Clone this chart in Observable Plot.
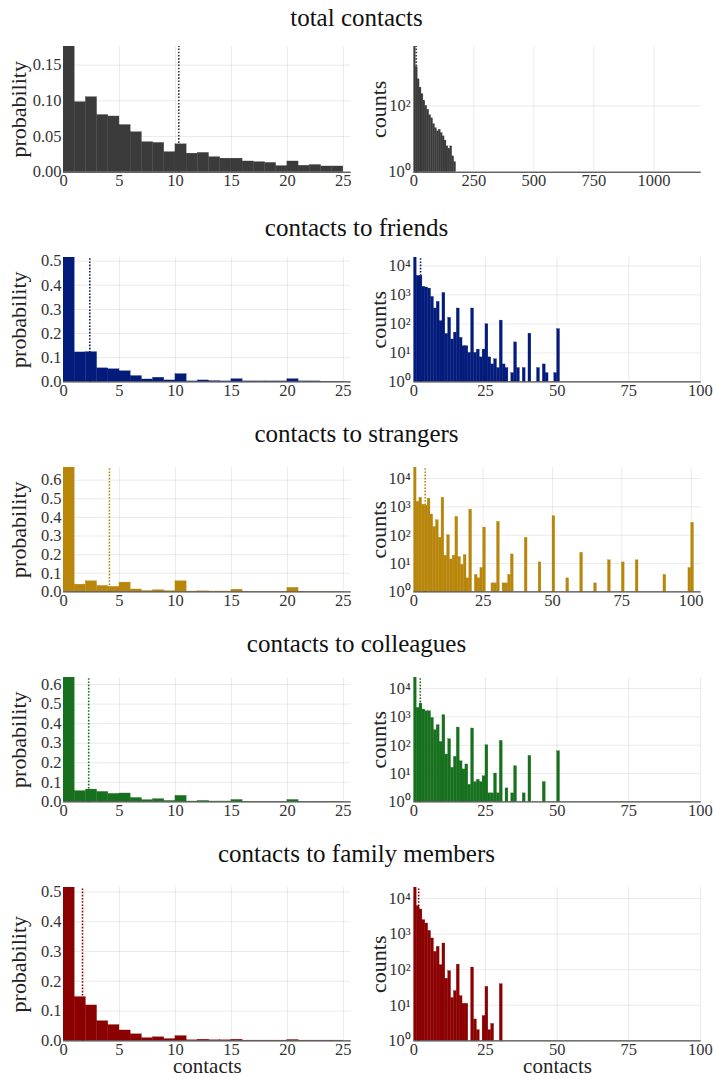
<!DOCTYPE html>
<html><head><meta charset="utf-8">
<script src="https://cdn.jsdelivr.net/npm/d3@7"></script>
<script src="https://cdn.jsdelivr.net/npm/@observablehq/plot@0.6"></script>
<style>
html,body{margin:0;padding:0;background:#fff;}
#root{position:relative;width:713px;height:1078px;overflow:hidden;font-family:"Liberation Serif",serif;}
.title{position:absolute;left:0;width:713px;text-align:center;font-size:25px;line-height:25px;color:#111;white-space:nowrap;}
.panel{position:absolute;}
.panel svg{overflow:visible;}
</style>
</head><body><div id="root"></div>
<script>
// ---------- data ----------
const rowTitles = ["total contacts", "contacts to friends", "contacts to strangers", "contacts to colleagues", "contacts to family members"];
const rowColors = ["#3b3b3b", "#031b7b", "#b8860b", "#17701d", "#8b0000"];
const meanContacts = [10.3, 2.35, 4.1, 2.25, 1.7];

// probability per unit bin (0-1, 1-2, ...)
const totalProb = [0.19, 0.098, 0.105, 0.080, 0.078, 0.066, 0.056, 0.042, 0.041, 0.028, 0.039, 0.026, 0.027, 0.021, 0.019, 0.019, 0.015, 0.014, 0.013, 0.0085, 0.015, 0.009, 0.010, 0.008, 0.008];
const friendsProb = [0.53, 0.122, 0.123, 0.056, 0.052, 0.044, 0.024, 0.010, 0.017, 0.006, 0.032, 0.002, 0.006, 0.003, 0.002, 0.011, 0.002, 0.002, 0.002, 0.002, 0.011, 0.002, 0.002, 0.001, 0.001];
const strangersProb = [0.70, 0.039, 0.057, 0.032, 0.027, 0.050, 0.013, 0.005, 0.009, 0.004, 0.057, 0.002, 0.003, 0.002, 0.002, 0.012, 0.001, 0.001, 0.001, 0.001, 0.022, 0.001, 0.001, 0.001, 0.001];
const colleaguesProb = [0.66, 0.055, 0.063, 0.051, 0.041, 0.043, 0.020, 0.009, 0.014, 0.005, 0.031, 0.002, 0.005, 0.002, 0.002, 0.010, 0.001, 0.001, 0.001, 0.001, 0.010, 0.001, 0.001, 0.001, 0.001];
const familyProb = [0.52, 0.147, 0.119, 0.066, 0.053, 0.035, 0.022, 0.009, 0.012, 0.006, 0.016, 0.002, 0.004, 0.002, 0.002, 0.004, 0.001, 0.001, 0.001, 0.001, 0.003, 0.001, 0.001, 0.001, 0.001];

// counts (total: bins of 8 contacts; others: bins of 1 contact)
const totalBinWidth = 8;
const totalCounts = [9000, 1500, 630, 355, 224, 141, 100, 76, 52, 42, 28, 21, 17, 19, 15, 12, 9, 6, 5, 6, 3, 2];
const friendsCounts = [20000, 4500, 4500, 1900, 1800, 1650, 850, 340, 575, 124, 1170, 45, 162, 29, 50, 340, 33, 17, 17, 10, 340, 10, 13, 7, 13, 97, 7, 4, 6, 3, 130, 4, 3, 1, 2, 23, 3, 1, 3, 1, 46, 1, 1, 3, 1, 4, 2, 1, 1, 2, 66];
const strangersCounts = [30000, 1500, 2100, 1200, 1100, 1950, 540, 196, 340, 81, 2100, 19, 100, 14, 19, 445, 17, 9, 20, 3, 800, 1, 4, 3, 7, 186, 1, 1, 2, 2, 295, 1, 2, 2, 4, 21, 1, 1, 1, 1, 81, 1, 1, 1, 1, 11, 1, 1, 1, 1, 470, 1, 1, 1, 1, 3, 1, 1, 1, 1, 24, 1, 1, 1, 1, 2, 1, 1, 1, 1, 13, 1, 1, 1, 1, 11, 1, 1, 1, 1, 13, 1, 1, 1, 1, 1, 1, 1, 1, 1, 4, 1, 1, 1, 1, 1, 1, 1, 1, 7, 275];
const colleaguesCounts = [30000, 2080, 2960, 1820, 1580, 1580, 920, 340, 510, 130, 1150, 47, 163, 16, 39, 420, 27, 14, 21, 4, 390, 5, 6, 5, 8, 100, 2, 2, 10, 2, 142, 1, 3, 1, 2, 18, 1, 1, 2, 1, 42, 1, 1, 1, 1, 5, 1, 1, 1, 1, 61];
const familyCounts = [25000, 6100, 4900, 2470, 1990, 1230, 755, 317, 437, 134, 545, 56, 91, 16, 25, 139, 18, 11, 11, 1, 115, 4, 2, 1, 5, 33, 2, 3, 1, 1, 39];

const probTicks = [[0, 0.05, 0.10, 0.15], [0, 0.1, 0.2, 0.3, 0.4, 0.5], [0, 0.1, 0.2, 0.3, 0.4, 0.5, 0.6], [0, 0.1, 0.2, 0.3, 0.4, 0.5, 0.6], [0, 0.1, 0.2, 0.3, 0.4, 0.5]];
const countTicks = [[1, 100], [1, 10, 100, 1000, 10000], [1, 10, 100, 1000, 10000], [1, 10, 100, 1000, 10000], [1, 10, 100, 1000, 10000]];
const leftXTicks = [0, 5, 10, 15, 20, 25];
const rightXTicks = [[0, 250, 500, 750, 1000], [0, 25, 50, 75, 100], [0, 25, 50, 75, 100], [0, 25, 50, 75, 100], [0, 25, 50, 75, 100]];

// ---------- layout ----------
const probs = [totalProb, friendsProb, strangersProb, colleaguesProb, familyProb];
const counts = [totalCounts, friendsCounts, strangersCounts, colleaguesCounts, familyCounts];
const binWidths = [totalBinWidth, 1, 1, 1, 1];
const leftYMax = [0.176, 0.515, 0.668, 0.636, 0.515];
const rightYMax = [6166, 19500, 24600, 24600, 20400];
const rightXMax = [1197, 100.25, 103.6, 100.25, 100.25];
const frameTops = [46, 257.3, 467.3, 677.3, 887.3];
const frameBottoms = [171.7, 381.7, 591.7, 801.7, 1040.7];
const titleBaselines = [26, 236, 442, 652, 862];

const root = document.getElementById("root");
const FONT = "'Liberation Serif', serif";
const sup = {"0": "\u2070", "1": "\u00b9", "2": "\u00b2", "3": "\u00b3", "4": "\u2074"};
const MT = 6;

function place(el, left, top) {
  const d = document.createElement("div");
  d.className = "panel";
  d.style.left = left + "px";
  d.style.top = top + "px";
  d.appendChild(el);
  root.appendChild(d);
}

function yLabel(txt, dx) {
  return Plot.text([txt], {text: d => d, frameAnchor: "left", rotate: -90, dx, textAnchor: "middle", lineAnchor: "middle", fontSize: 22, fill: "#222"});
}
function xLabel(txt) {
  return Plot.text([txt], {text: d => d, frameAnchor: "bottom", dy: 25, textAnchor: "middle", lineAnchor: "middle", fontSize: 21, fill: "#222"});
}

for (let r = 0; r < 5; r++) {
  const t = document.createElement("div");
  t.className = "title";
  t.style.top = (titleBaselines[r] - 21) + "px";
  t.textContent = rowTitles[r];
  root.appendChild(t);

  const color = rowColors[r];
  const fh = frameBottoms[r] - frameTops[r];
  const last = r === 4;
  const MB = last ? 37 : 30;

  // left: probability histogram
  const pdata = probs[r].map((p, i) => ({x1: i, x2: i + 1, p}));
  const left = Plot.plot({
    width: 360, height: MT + fh + MB,
    marginLeft: 63, marginRight: 9.3, marginTop: MT, marginBottom: MB,
    style: {fontFamily: FONT, fontSize: "16.5px", color: "#333", background: "transparent"},
    x: {domain: [0, 25.7], ticks: leftXTicks, tickFormat: "d", tickSize: 0, tickPadding: 2, grid: true, label: null},
    y: {domain: [0, leftYMax[r]], ticks: probTicks[r], tickFormat: r === 0 ? ".2f" : ".1f", tickSize: 0, tickPadding: 2, grid: true, label: null},
    marks: [
      Plot.ruleX([meanContacts[r]], {y1: 0, y2: leftYMax[r], stroke: color, strokeWidth: 1.6, strokeDasharray: "1.6,1.6"}),
      Plot.rect(pdata, {x1: "x1", x2: "x2", y1: 0, y2: "p", fill: color, stroke: color, strokeWidth: 0.3, inset: 0, clip: true}),
      Plot.ruleY([0], {stroke: "#222", strokeWidth: 1}),
      yLabel("probability", -45),
      ...(last ? [xLabel("contacts")] : [])
    ]
  });
  place(left, 0, frameTops[r] - MT);

  // right: counts histogram (log)
  const bw = binWidths[r];
  const cdata = counts[r].map((c, i) => ({x1: i * bw, x2: (i + 1) * bw, c})).filter(d => d.c > 1);
  const right = Plot.plot({
    width: 353, height: MT + fh + MB,
    marginLeft: 53.3, marginRight: 12.3, marginTop: MT, marginBottom: MB,
    style: {fontFamily: FONT, fontSize: "16.5px", color: "#333", background: "transparent"},
    x: {domain: [0, rightXMax[r]], ticks: rightXTicks[r], tickFormat: "d", tickSize: 0, tickPadding: 2, grid: true, label: null},
    y: {type: "log", domain: [1, rightYMax[r]], ticks: countTicks[r], tickFormat: d => "10" + sup[String(Math.round(Math.log10(d)))], tickSize: 0, tickPadding: 3, grid: true, label: null},
    marks: [
      Plot.ruleX([meanContacts[r]], {y1: 1, y2: rightYMax[r], stroke: color, strokeWidth: 1.6, strokeDasharray: "1.6,1.6"}),
      Plot.rect(cdata, {x1: "x1", x2: "x2", y1: 1, y2: "c", fill: color, stroke: color, strokeWidth: 0.3, inset: 0, clip: true}),
      Plot.ruleY([1], {stroke: "#222", strokeWidth: 1}),
      yLabel("counts", -35),
      ...(last ? [xLabel("contacts")] : [])
    ]
  });
  place(right, 360, frameTops[r] - MT);
}
</script>
</body></html>
